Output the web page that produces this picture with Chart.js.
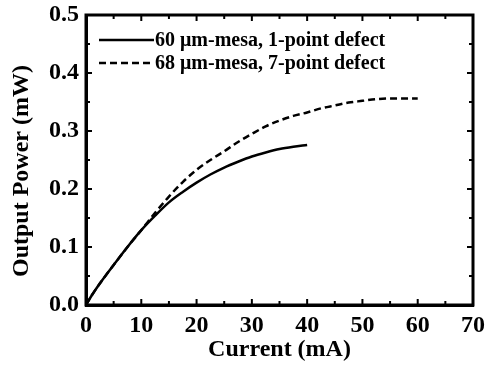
<!DOCTYPE html>
<html>
<head>
  <script src="https://cdn.jsdelivr.net/npm/chart.js@4/dist/chart.umd.min.js"></script>
  <style>
    html, body { margin: 0; padding: 0; background: #fff; }
    #wrap { width: 487px; height: 367px; }
  </style>
</head>
<body>
  <div id="wrap"><canvas id="chart" width="487" height="367"></canvas></div>
  <script>
    // 60 um mesa, 1-point defect
    const currentA = [0, 1, 2.5, 5, 7.5, 10, 12.5, 15, 17.5, 20, 22.5, 25, 27.5, 30, 32.5, 35, 37.5, 40];
    const powerA = [0, 0.016, 0.037, 0.069, 0.100, 0.129, 0.154, 0.177, 0.195, 0.211, 0.225, 0.237, 0.247, 0.256, 0.263, 0.269, 0.273, 0.276];
    // 68 um mesa, 7-point defect
    const currentB = [0, 1, 2.5, 5, 7.5, 10, 12.5, 15, 17.5, 20, 22.5, 25, 27.5, 30, 32.5, 35, 37.5, 40, 42.5, 45, 47.5, 50, 52.5, 55, 57.5, 60];
    const powerB = [0, 0.016, 0.037, 0.069, 0.100, 0.129, 0.159, 0.187, 0.212, 0.233, 0.250, 0.265, 0.281, 0.295, 0.308, 0.318, 0.326, 0.332, 0.339, 0.344, 0.349, 0.352, 0.355, 0.356, 0.356, 0.356];
    const labels = ['60 \u03bcm-mesa, 1-point defect', '68 \u03bcm-mesa, 7-point defect'];
    const yTitle = 'Output Power (mW)';

    const serif = "'Liberation Serif', 'Times New Roman', serif";

    function pts(xs, ys) {
      return xs.map((x, i) => ({ x: x, y: ys[i] }));
    }

    // frame on top/right, inward ticks on all four sides, legend and y title
    const frameTicks = {
      id: 'frameTicks',
      afterDraw(chart) {
        const ctx = chart.ctx;
        const a = chart.chartArea;
        const xs = chart.scales.x, ys = chart.scales.y;
        ctx.save();
        ctx.strokeStyle = '#000';
        ctx.lineWidth = 3;
        ctx.strokeRect(a.left, a.top, a.right - a.left, a.bottom - a.top);
        ctx.lineWidth = 2;
        ctx.beginPath();
        for (let v = 0; v <= 70; v += 5) {
          const px = xs.getPixelForValue(v);
          const len = v % 10 === 0 ? 6 : 4;
          ctx.moveTo(px, a.bottom); ctx.lineTo(px, a.bottom - len);
          ctx.moveTo(px, a.top); ctx.lineTo(px, a.top + len);
        }
        for (let k = 0; k <= 10; k++) {
          const py = ys.getPixelForValue(k * 0.05);
          const len = k % 2 === 0 ? 6 : 4;
          ctx.moveTo(a.left, py); ctx.lineTo(a.left + len, py);
          ctx.moveTo(a.right, py); ctx.lineTo(a.right - len, py);
        }
        ctx.stroke();

        // legend
        ctx.font = 'bold 20px ' + serif;
        ctx.fillStyle = '#000';
        ctx.textBaseline = 'middle';
        ctx.textAlign = 'left';
        chart.data.datasets.forEach((ds, i) => {
          const y = 40 + i * 23;
          ctx.lineWidth = 2.5;
          ctx.setLineDash(ds.borderDash || []);
          ctx.beginPath();
          ctx.moveTo(99, y); ctx.lineTo(154, y);
          ctx.stroke();
          ctx.setLineDash([]);
          ctx.fillText(ds.label, 155, y + 1);
        });

        // y axis title
        ctx.font = 'bold 24px ' + serif;
        ctx.textAlign = 'center';
        ctx.translate(22, 171);
        ctx.rotate(-Math.PI / 2);
        ctx.fillText(yTitle, 0, 0);
        ctx.restore();
      }
    };

    new Chart('chart', {
      type: 'scatter',
      data: {
        datasets: [{
          label: labels[0],
          data: pts(currentA, powerA),
          showLine: true,
          borderColor: '#000',
          borderWidth: 2.5,
          pointRadius: 0,
          cubicInterpolationMode: 'monotone'
        }, {
          label: labels[1],
          data: pts(currentB, powerB),
          showLine: true,
          borderColor: '#000',
          borderWidth: 2.5,
          borderDash: [7, 4],
          pointRadius: 0,
          cubicInterpolationMode: 'monotone'
        }]
      },
      options: {
        responsive: false,
        animation: false,
        layout: { padding: { top: 15, right: 14, left: 0, bottom: 0 } },
        plugins: {
          legend: { display: false },
          tooltip: { enabled: false }
        },
        scales: {
          x: {
            type: 'linear',
            min: 0,
            max: 70,
            afterFit: s => { s.height = 62; s.paddingLeft = 0; s.paddingRight = 0; },
            grid: { display: false, drawTicks: false },
            border: { display: true, color: '#000', width: 3 },
            ticks: {
              stepSize: 10,
              padding: 6,
              color: '#000',
              font: { family: serif, size: 24, weight: 'bold' }
            },
            title: {
              display: true,
              text: 'Current (mA)',
              color: '#000',
              padding: { top: 0, bottom: 3 },
              font: { family: serif, size: 24, weight: 'bold' }
            }
          },
          y: {
            min: 0,
            max: 0.5,
            afterFit: s => { s.width = 86; s.paddingTop = 0; s.paddingBottom = 0; },
            grid: { display: false, drawTicks: false },
            border: { display: true, color: '#000', width: 3 },
            ticks: {
              stepSize: 0.1,
              padding: 7,
              color: '#000',
              callback: v => v.toFixed(1),
              font: { family: serif, size: 24, weight: 'bold' }
            },
            title: { display: false }
          }
        }
      },
      plugins: [frameTicks]
    });
  </script>
</body>
</html>
